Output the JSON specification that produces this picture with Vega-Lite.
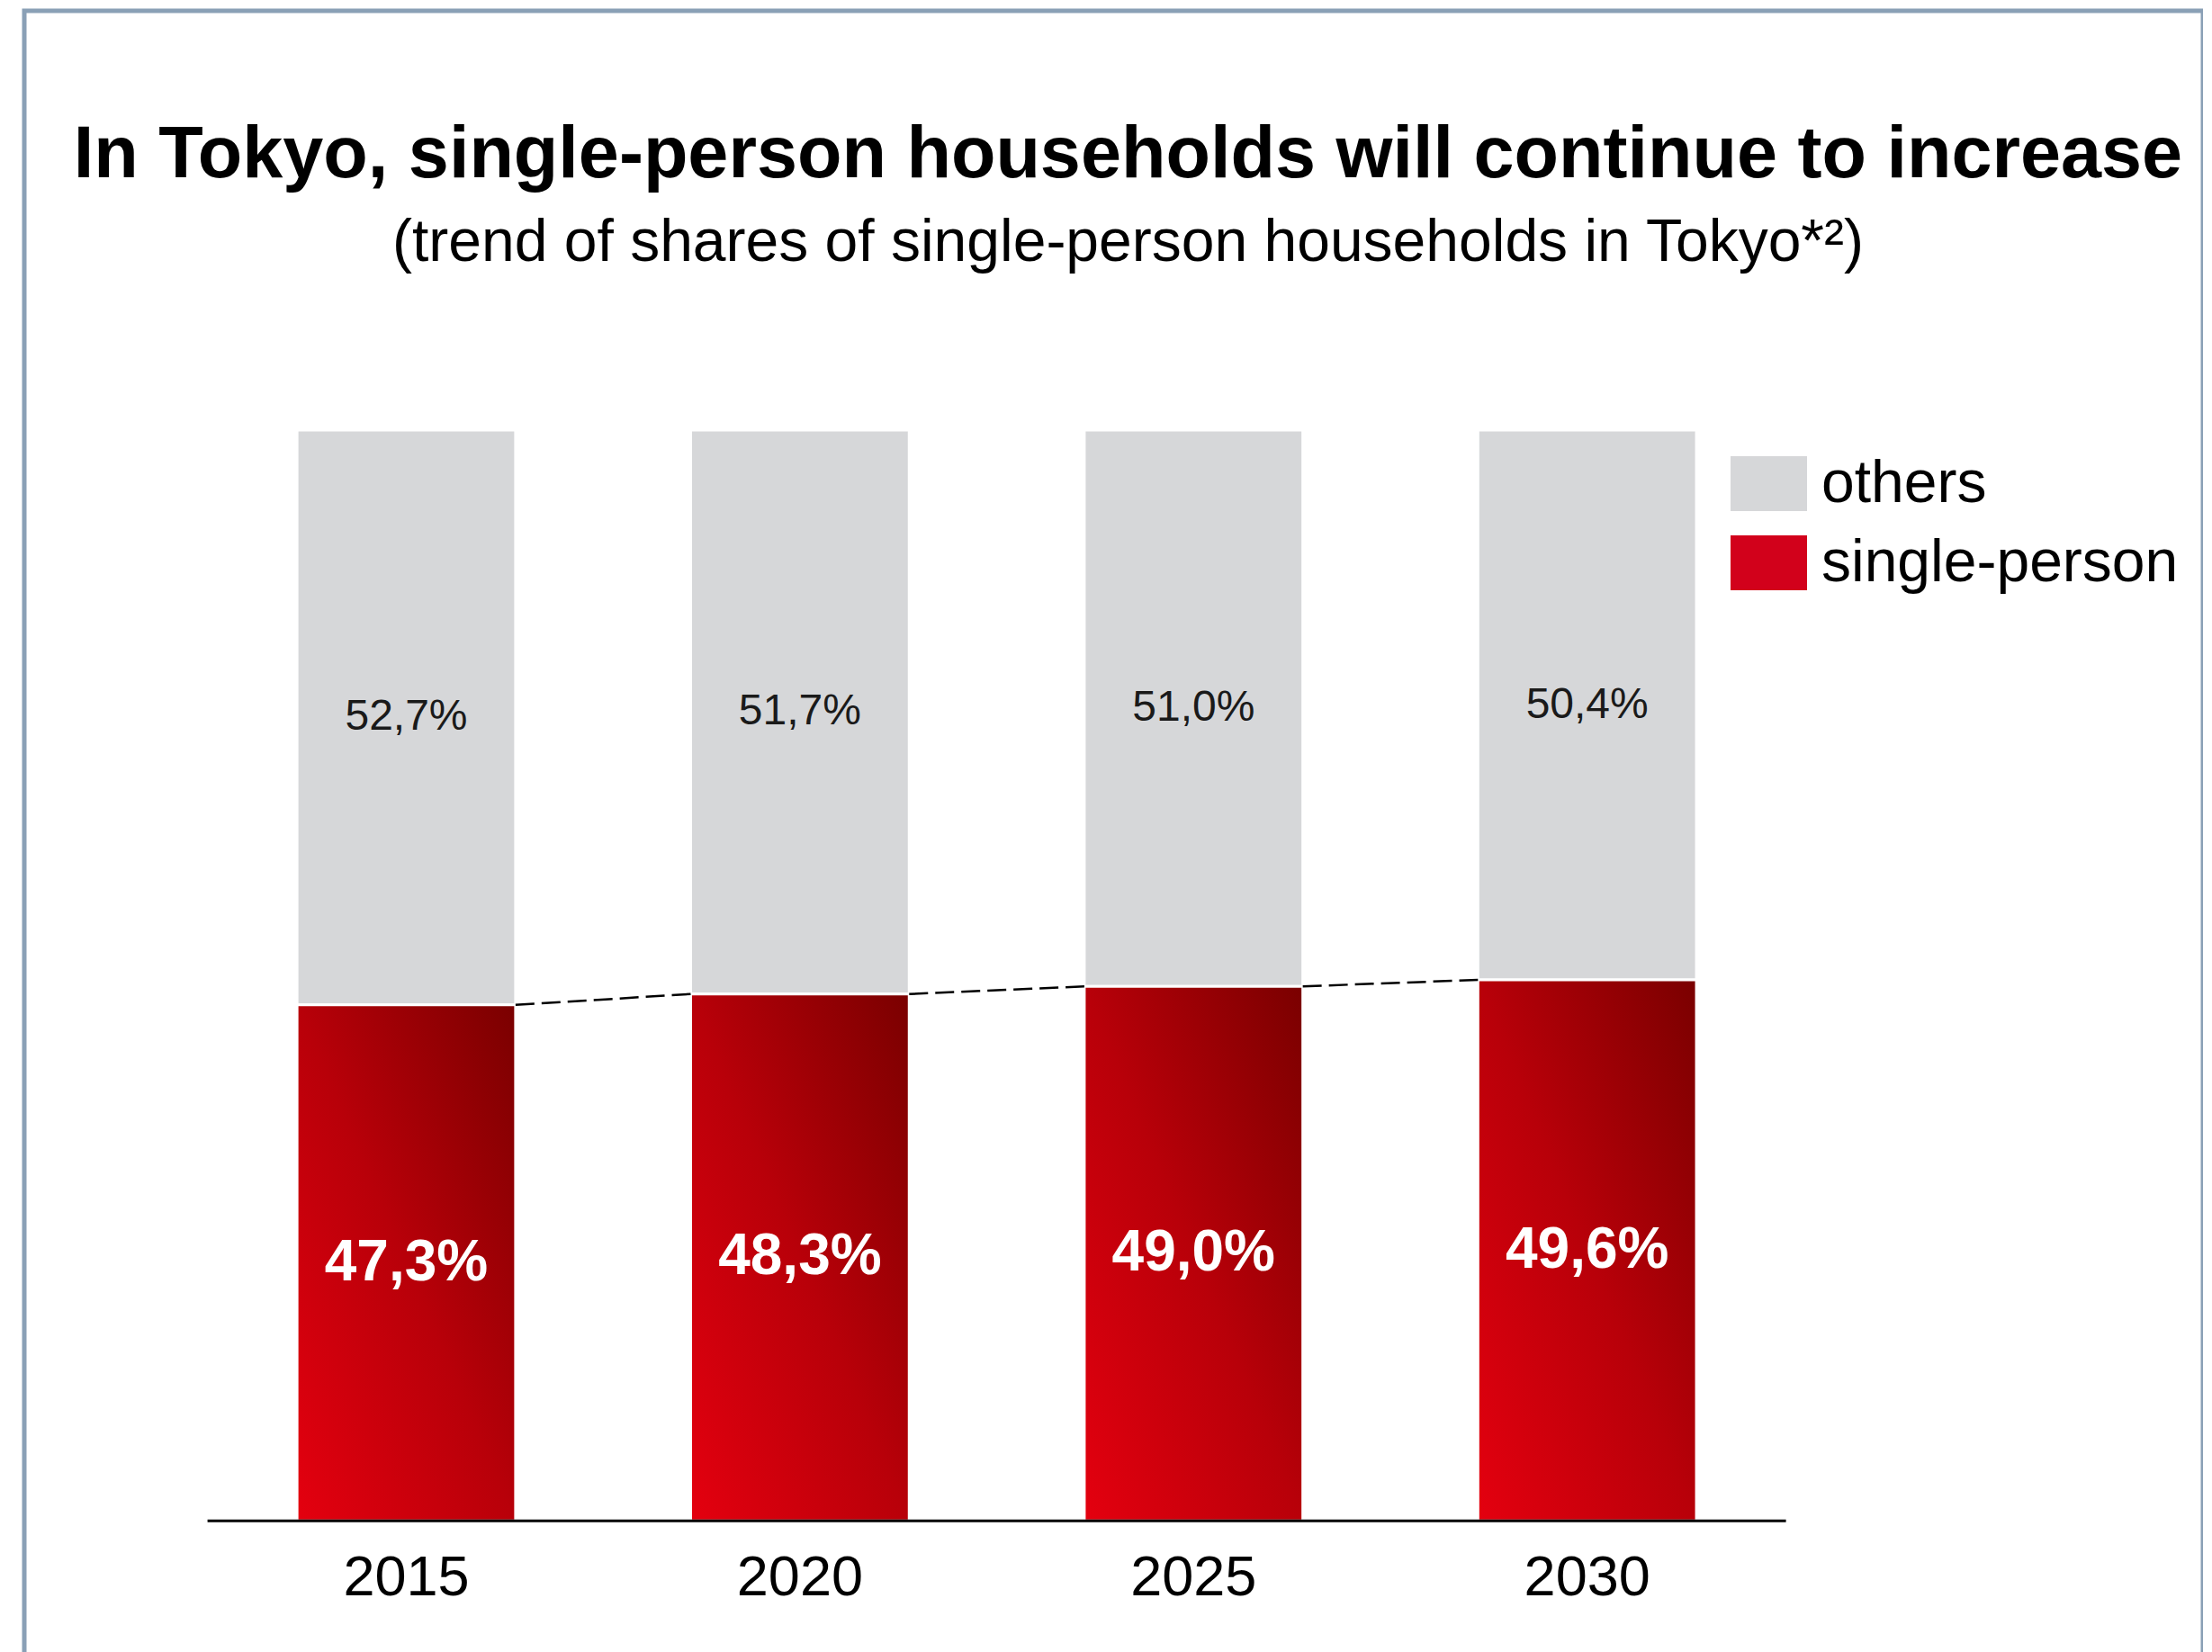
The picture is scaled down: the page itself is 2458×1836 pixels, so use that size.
{
  "$schema": "https://vega.github.io/schema/vega-lite/v6.json",
  "autosize": {"type": "none"},
  "padding": {"left": 27, "top": 12, "right": 0, "bottom": 0},
  "width": 2421,
  "height": 1860,
  "background": "white",
  "title": {
    "text": "In Tokyo, single-person households will continue to increase",
    "subtitle": "(trend of shares of single-person households in Tokyo*²)",
    "anchor": "middle",
    "frame": "group",
    "dx": 16,
    "offset": -292,
    "font": "Liberation Sans",
    "fontSize": 81,
    "fontWeight": "bold",
    "color": "black",
    "subtitleFont": "Liberation Sans",
    "subtitleFontSize": 66,
    "subtitleColor": "black",
    "subtitlePadding": 24
  },
  "datasets": {
    "shares": [
      {"year": "2015", "category": "single-person", "share": 0.473},
      {"year": "2015", "category": "others", "share": 0.527},
      {"year": "2020", "category": "single-person", "share": 0.483},
      {"year": "2020", "category": "others", "share": 0.517},
      {"year": "2025", "category": "single-person", "share": 0.490},
      {"year": "2025", "category": "others", "share": 0.510},
      {"year": "2030", "category": "single-person", "share": 0.496},
      {"year": "2030", "category": "others", "share": 0.504}
    ],
    "links": [
      {"from": "2015", "to": "2020", "a": 0.473, "b": 0.483},
      {"from": "2020", "to": "2025", "a": 0.483, "b": 0.490},
      {"from": "2025", "to": "2030", "a": 0.490, "b": 0.496}
    ]
  },
  "layer": [
    {
      "data": {"name": "shares"},
      "mark": {"type": "bar", "stroke": "white", "strokeWidth": 3},
      "encoding": {
        "x": {
          "field": "year", "type": "nominal",
          "scale": {"paddingInner": 0.445, "paddingOuter": 0.99, "align": 0.35},
          "axis": {
            "title": null, "domain": false, "ticks": false, "tickSize": 0,
            "labelAngle": 0, "labelFont": "Liberation Sans", "labelFontSize": 63,
            "labelColor": "black", "labelPadding": 32, "offset": -182, "grid": false
          }
        },
        "y": {
          "field": "share", "type": "quantitative", "stack": "zero",
          "scale": {"domain": [-0.15, 1.3845], "nice": false, "zero": false},
          "axis": null
        },
        "color": {
          "field": "category", "type": "nominal",
          "scale": {"domain": ["others", "single-person"], "range": ["#d6d7d9", "#d2011b"]},
          "legend": {
            "title": null, "orient": "none", "legendX": 1896, "legendY": 483,
            "symbolType": "M-1,-0.72H1V0.72H-1Z", "symbolSize": 7225,
            "symbolStrokeWidth": 0, "symbolOpacity": 1,
            "labelFont": "Liberation Sans", "labelFontSize": 66, "labelColor": "black",
            "labelLimit": 0, "labelOffset": 16, "rowPadding": 12, "padding": 0
          }
        },
        "order": {"field": "category", "sort": "descending"}
      }
    },
    {
      "data": {"name": "shares"},
      "transform": [{"filter": "datum.category === 'single-person'"}],
      "mark": {
        "type": "bar", "stroke": "white", "strokeWidth": 3,
        "fill": {
          "gradient": "linear", "x1": 0, "y1": 1, "x2": 1, "y2": 0,
          "stops": [
            {"offset": 0, "color": "#e4000f"},
            {"offset": 0.5, "color": "#b80009"},
            {"offset": 1, "color": "#7a0000"}
          ]
        }
      },
      "encoding": {
        "x": {"field": "year", "type": "nominal"},
        "y": {"field": "share", "type": "quantitative"}
      }
    },
    {
      "data": {"name": "links"},
      "mark": {"type": "rule", "color": "black", "strokeWidth": 2.5, "strokeDash": [21, 8]},
      "encoding": {
        "x": {"field": "from", "type": "nominal", "bandPosition": 1},
        "x2": {"field": "to", "bandPosition": 0},
        "y": {"field": "a", "type": "quantitative"},
        "y2": {"field": "b"}
      }
    },
    {
      "data": {"name": "links"},
      "transform": [{"filter": "datum.from === '2015'"}],
      "mark": {"type": "rule", "color": "black", "strokeWidth": 3},
      "encoding": {
        "x": {"datum": "2015", "type": "nominal", "bandPosition": -0.41},
        "x2": {"datum": "2030", "bandPosition": 1.41},
        "y": {"datum": 0, "type": "quantitative"}
      }
    },
    {
      "data": {"name": "shares"},
      "mark": {"type": "text", "font": "Liberation Sans", "fontSize": 48, "color": "#1a1a1a", "baseline": "middle", "align": "center"},
      "encoding": {
        "x": {"field": "year", "type": "nominal"},
        "y": {"field": "share", "type": "quantitative", "stack": "zero", "bandPosition": 0.5},
        "detail": {"field": "category"},
        "order": {"field": "category", "sort": "descending"},
        "text": {
          "field": "share", "type": "quantitative", "format": ".1%",
          "condition": {"test": "datum.category !== 'others'", "value": ""}
        }
      }
    },
    {
      "data": {"name": "shares"},
      "mark": {"type": "text", "font": "Liberation Sans", "fontSize": 64, "fontWeight": "bold", "color": "white", "baseline": "middle", "align": "center"},
      "encoding": {
        "x": {"field": "year", "type": "nominal"},
        "y": {"field": "share", "type": "quantitative", "stack": "zero", "bandPosition": 0.5},
        "detail": {"field": "category"},
        "order": {"field": "category", "sort": "descending"},
        "text": {
          "field": "share", "type": "quantitative", "format": ".1%",
          "condition": {"test": "datum.category !== 'single-person'", "value": ""}
        }
      }
    }
  ],
  "config": {
    "locale": {"number": {"decimal": ",", "thousands": ".", "grouping": [3], "currency": ["", " €"]}},
    "view": {"stroke": "#8aa0b6", "strokeWidth": 5},
    "axis": {"grid": false}
  }
}
